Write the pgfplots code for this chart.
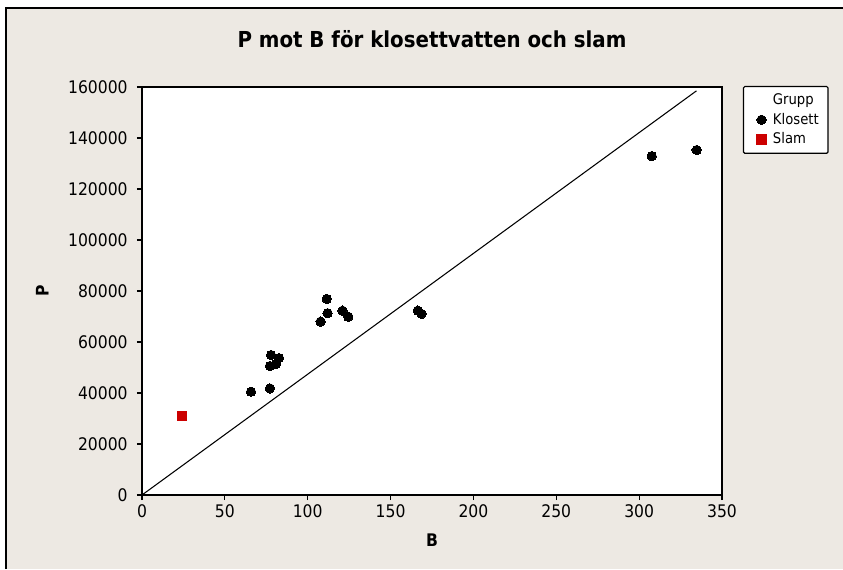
\documentclass[border=0pt]{standalone}
\usepackage{fontspec}
\setmainfont{DejaVu Sans Condensed}
\usepackage{pgfplots}
\pgfplotsset{compat=1.18}
\definecolor{paper}{RGB}{237,233,227}
\definecolor{slamred}{RGB}{204,0,0}

\begin{document}
\begin{tikzpicture}[x=0.75pt,y=0.75pt]
% page: 843 x 569 px, plot box lower left at px (142,495)
\useasboundingbox (-142,-74) rectangle (701,495);
\fill[white] (-142,-74) rectangle (701,495);
\fill[paper] (-136,-74) rectangle (701,487);
\draw[black,line width=1.5pt] (-136,-74) -- (-136,487) -- (701,487);

\begin{axis}[
    scale only axis,
    width=435pt, height=306pt,
    at={(0,0)}, anchor=south west,
    xmin=0, xmax=350,
    ymin=0, ymax=160000,
    xtick={0,50,...,350},
    ytick={0,20000,...,160000},
    scaled y ticks=false,
    yticklabel style={/pgf/number format/fixed, /pgf/number format/1000 sep={}, xshift=-3.5pt},
    /pgf/number format/assume math mode=true,
    tick label style={font=\fontsize{13}{15}\selectfont},
    tick align=outside,
    major tick length=3.75pt,
    xtick pos=bottom, ytick pos=left,
    axis line style={line width=1pt},
    every tick/.style={black, line width=0.9pt},
    axis background/.style={fill=white},
    title={P mot B för klosettvatten och slam},
    title style={font=\bfseries\fontsize{16.5}{19}\selectfont,
        at={(axis description cs:0.5,1.098)}, anchor=center},
    xlabel={B},
    xlabel style={font=\bfseries\fontsize{13}{15}\selectfont,
        at={(axis description cs:0.5,-0.11)}, anchor=center},
    ylabel={P},
    ylabel style={font=\bfseries\fontsize{13}{15}\selectfont,
        at={(axis description cs:-0.172,0.5)}, anchor=center},
    legend style={at={(axis description cs:1.036,1.0025)}, anchor=north west,
        draw=black, line width=0.9pt, fill=white, rounded corners=1pt,
        font=\fontsize{11}{13}\selectfont, row sep=0.8pt, column sep=3pt,
        inner xsep=5pt, inner ysep=3.5pt},
    legend cell align=left,
    clip=false,
]
\addlegendimage{empty legend}
\addlegendentry{Grupp}

\addplot[only marks, mark=*, mark size=3.5pt, black, mark options={line width=0pt}]
coordinates {
(65.8,40500) (77.2,41800) (77.9,54900) (82.7,53700) (77.2,50600)
(80.9,51400) (111.5,76900) (112,71300) (107.8,68000) (121,72300)
(124.5,69900) (166.4,72300) (168.7,71000) (307.6,132900) (334.7,135300)
};
\addlegendentry{Klosett}

\addplot[only marks, mark=square*, mark size=3.6pt, slamred, mark options={line width=0pt}]
coordinates {(24.1,31000)};
\addlegendentry{Slam}

\addplot[black, line width=0.8pt, forget plot] coordinates {(0,0) (334.6,158500)};
\end{axis}
\end{tikzpicture}
\end{document}
